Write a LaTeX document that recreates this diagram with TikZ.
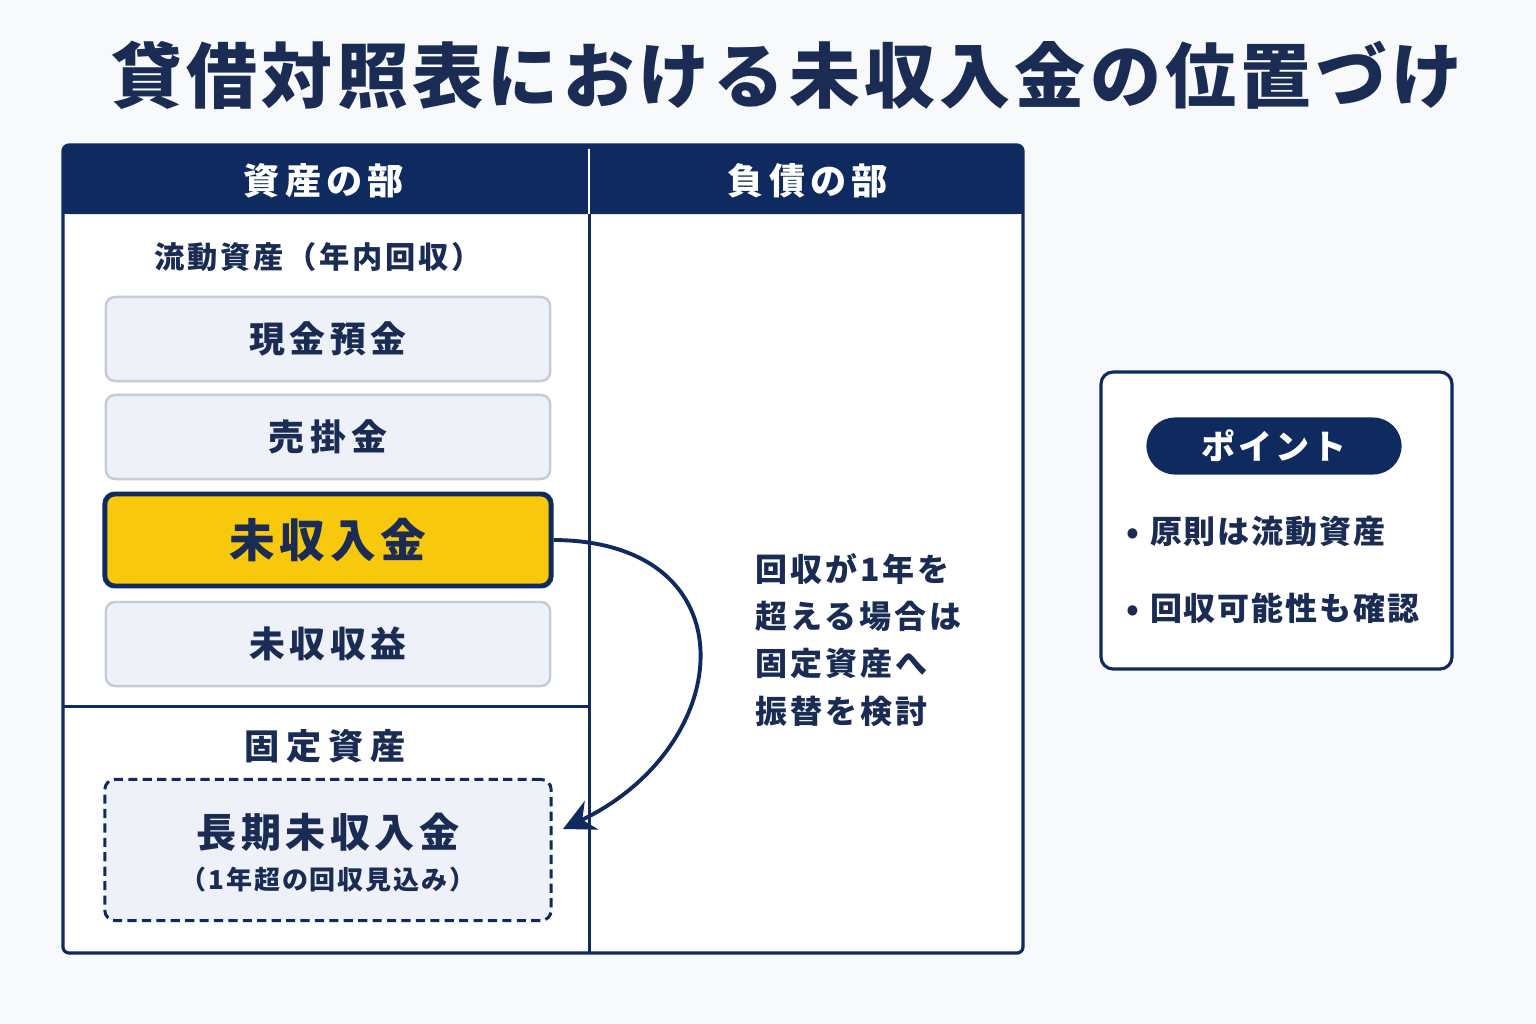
\documentclass[tikz,border=0pt]{standalone}
\usepackage{fontspec}
\setmainfont{Noto Sans CJK JP}
\usetikzlibrary{arrows.meta}
\definecolor{navy}{HTML}{0F2A5E}
\definecolor{ink}{HTML}{1A2B54}
\definecolor{boxfill}{HTML}{EEF1F7}
\definecolor{boxline}{HTML}{C5CBDA}
\definecolor{gold}{HTML}{F8C80C}
\definecolor{bg}{HTML}{F8F9FB}
\newcommand{\jsz}[2]{\fontsize{#1}{#1}\selectfont\addfontfeatures{LetterSpace=#2}\bfseries}
\tikzset{
  txt/.style={inner sep=0pt, text=ink},
  itembox/.style={draw=boxline, line width=0.7pt, fill=boxfill, rounded corners=0.09cm,
    minimum width=4.44cm, minimum height=0.84cm, inner sep=0pt, text=ink},
  hilite/.style={draw=navy, line width=1.4pt, fill=gold, rounded corners=0.1cm,
    minimum width=4.46cm, minimum height=0.92cm, inner sep=0pt, text=ink},
  longbox/.style={draw=navy, line width=0.85pt, dash pattern=on 2.6pt off 1.5pt,
    fill=boxfill, rounded corners=0.1cm, minimum width=4.46cm, minimum height=1.41cm, inner sep=0pt},
  flow/.style={draw=navy, line width=1.1pt, -{Stealth[length=9pt,width=9pt]}},
}
\begin{document}
\begin{tikzpicture}[x=0.01cm,y=-0.01cm]
\fill[bg] (0,0) rectangle (1536,1024);
\useasboundingbox (0,0) rectangle (1536,1024);

% title
\node[txt] (title) at (787,75) {\jsz{20.2pt}{6}貸借対照表における未収入金の位置づけ};

% table
\fill[white] (63,145) rectangle (1023,953);
\fill[navy, rounded corners=0.06cm] (63,145) rectangle (1023,214);
\fill[navy] (63,200) rectangle (1023,214);
\draw[white, line width=0.7pt] (589,149) -- (589,214);
\draw[navy, line width=0.85pt] (589,214) -- (589,953);
\draw[navy, line width=0.85pt] (63,706) -- (589,706);
\draw[navy, line width=0.9pt, rounded corners=0.06cm] (63,145) rectangle (1023,953);

\node[txt, text=white] (assets) at (324,181) {\jsz{10.3pt}{14}資産の部};
\node[txt, text=white] (liab) at (808,181) {\jsz{10.3pt}{14}負債の部};

\node[txt] (cur) at (318,257) {\jsz{8.6pt}{9}流動資産（年内回収）};

\node[itembox] (cash) at (328,339) {\jsz{10.2pt}{12}現金預金};
\node[itembox] (ar) at (328,437) {\jsz{10.2pt}{16}売掛金};
\node[hilite] (mi) at (328,540) {\jsz{13pt}{10}未収入金};
\node[itembox] (accr) at (328,644) {\jsz{10.2pt}{12}未収収益};

\node[txt] (fixed) at (325,746) {\jsz{10pt}{20}固定資産};
\node[longbox] (ltl) at (328,850) {};
\node[txt] (ltlt) at (328,832) {\jsz{11.4pt}{11}長期未収入金};
\node[txt] (ltls) at (328,880) {\jsz{7.4pt}{7}（1年超の回収見込み）};

\coordinate (tip) at (563,829);
\draw[flow] (mi.east) .. controls (752,541) and (738,745) .. (tip);

\node[txt, anchor=west, align=left,
  font={\fontsize{9.1pt}{13.4pt}\selectfont\addfontfeatures{LetterSpace=9}\bfseries}] (note) at (755,640)
  {回収が1年を\\超える場合は\\固定資産へ\\振替を検討};

% point box
\draw[navy, line width=0.9pt, fill=white, rounded corners=0.12cm] (1101,372) rectangle (1452,669);
\node[fill=navy, rounded corners=0.285cm, minimum width=2.55cm, minimum height=0.57cm,
  inner sep=0pt, text=white] (pt) at (1274,446) {\jsz{9.7pt}{8}ポイント};
\node[txt, anchor=west] (b1) at (1126,531) {\jsz{9.1pt}{6}•\hspace{3pt}原則は流動資産};
\node[txt, anchor=west] (b2) at (1126,608) {\jsz{9.1pt}{6}•\hspace{3pt}回収可能性も確認};
\end{tikzpicture}
\end{document}
